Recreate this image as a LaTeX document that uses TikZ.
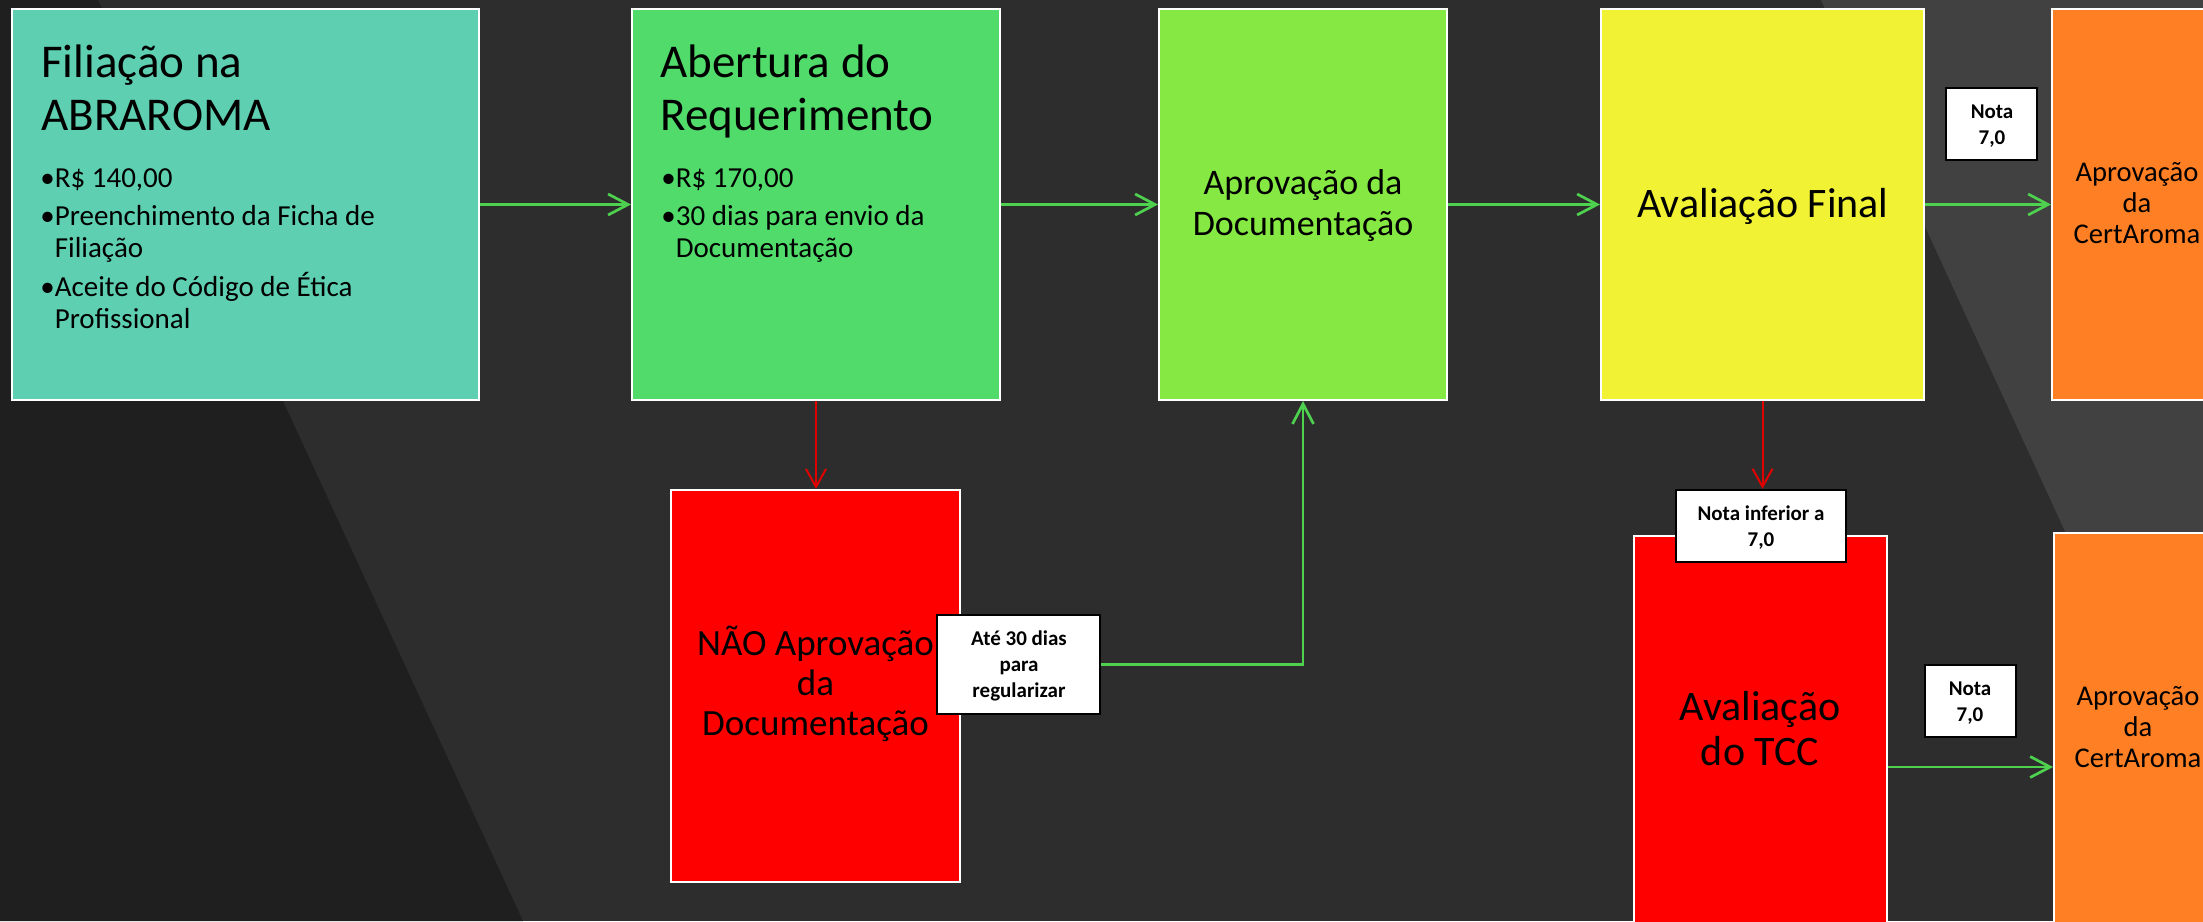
\documentclass[tikz,border=0pt]{standalone}
\usepackage{fontspec}
\setmainfont{Carlito}
\usetikzlibrary{arrows.meta,fit}
\definecolor{bgmid}{HTML}{2D2D2D}
\definecolor{bgdark}{HTML}{1F1F1F}
\definecolor{bglight}{HTML}{414141}
\definecolor{cteal}{HTML}{5ECFB1}
\definecolor{cgreen}{HTML}{50DB6A}
\definecolor{clime}{HTML}{86E842}
\definecolor{cyellow}{HTML}{F0F233}
\definecolor{corange}{HTML}{FF7F24}
\definecolor{cred}{HTML}{FF0000}
\definecolor{garrowc}{HTML}{4FD150}
\definecolor{rarrowc}{HTML}{E00000}
\tikzset{
  box/.style={draw=white, line width=1pt, inner sep=0pt},
  lbl/.style={draw=black, fill=white, line width=1.25pt, inner sep=0pt},
  gconn/.style={draw=garrowc, line width=1.35pt, -{Straight Barb[length=10pt,width=10.5pt]}},
  rconn/.style={draw=rarrowc, line width=1pt, -{Straight Barb[length=9pt,width=10pt]}},
  ttl/.style={anchor=base west, inner sep=0pt, font=\fontsize{23.5}{26.5}\selectfont},
  bul/.style={anchor=base west, inner sep=0pt, font=\fontsize{14.5}{16}\selectfont},
  ctxt/.style={anchor=base, inner sep=0pt},
  ltxt/.style={anchor=base, inner sep=0pt, font=\bfseries\fontsize{10.5}{13}\selectfont},
}
\begin{document}
\begin{tikzpicture}[x=0.5pt,y=-0.5pt]
\useasboundingbox (0,0) rectangle (2203,921);
\clip (0,0) rectangle (2203,921);
% background
\fill[bgmid] (0,0) rectangle (2203,921);
\fill[bgdark] (0,0) -- (98,0) -- (523,921) -- (0,921) -- cycle;
\fill[bglight] (1821,0) -- (2203,0) -- (2203,832) -- cycle;
% boxes
\node[box, fill=cteal, fit={(12,9)(479,400)}] (b1) {};
\node[box, fill=cgreen, fit={(632,9)(1000,400)}] (b2) {};
\node[box, fill=clime, fit={(1159,9)(1447,400)}] (b3) {};
\node[box, fill=cyellow, fit={(1601,9)(1924,400)}] (b4) {};
\node[box, fill=corange, fit={(2052,9)(2222,400)}] (b5) {};
\node[box, fill=cred, fit={(671,490)(960,882)}] (b6) {};
\node[box, fill=cred, fit={(1634,536)(1887,998)}] (b7) {};
\node[box, fill=corange, fit={(2054,533)(2222,1001)}] (b8) {};
% texts
\node[ttl] (t1) at (41,77) {\begin{tabular}[t]{@{}l@{}}Filiação na\\ABRAROMA\end{tabular}};
\node[bul] (u1) at (40,187) {\begin{tabular}[t]{@{}l@{}l@{}}•&R\$ 140,00\\[3pt]•&Preenchimento da Ficha de\\&Filiação\\[3pt]•&Aceite do Código de Ética\\&Profissional\end{tabular}};
\node[ttl] (t2) at (660,77) {\begin{tabular}[t]{@{}l@{}}Abertura do\\Requerimento\end{tabular}};
\node[bul] (u2) at (661,187) {\begin{tabular}[t]{@{}l@{}l@{}}•&R\$ 170,00\\[3pt]•&30 dias para envio da\\&Documentação\end{tabular}};
\node[ctxt, font=\fontsize{18}{20.5}\selectfont] (t3) at (1303,194) {\begin{tabular}[t]{@{}c@{}}Aprovação da\\Documentação\end{tabular}};
\node[ctxt, font=\fontsize{21}{23}\selectfont] (t4) at (1763,217) {Avaliação Final};
\node[ctxt, font=\fontsize{14.3}{15.5}\selectfont] (t5) at (2137,181) {\begin{tabular}[t]{@{}c@{}}Aprovação\\da\\CertAroma\end{tabular}};
\node[ctxt, font=\fontsize{18.5}{20}\selectfont] (t6) at (815.5,655) {\begin{tabular}[t]{@{}c@{}}NÃO Aprovação\\da\\Documentação\end{tabular}};
\node[ctxt, font=\fontsize{21}{22.5}\selectfont] (t7) at (1760,720) {\begin{tabular}[t]{@{}c@{}}Avaliação\\do TCC\end{tabular}};
\node[ctxt, font=\fontsize{14.3}{15.5}\selectfont] (t8) at (2138,705) {\begin{tabular}[t]{@{}c@{}}Aprovação\\da\\CertAroma\end{tabular}};
% connectors
\draw[gconn] (b1) -- (b2);
\draw[gconn] (b2) -- (b3);
\draw[gconn] (b3) -- (b4);
\draw[gconn] (b4) -- (b5);
\draw[rconn] (b2.south) -- (b2.south |- b6.north);
\coordinate (lrow) at (1000,664.5);
\draw[gconn] (b6.east |- lrow) -| (b3.south);
\draw[gconn] (b7) -- (b8);
% labels
\node[lbl, fit={(1946,88)(2037,160)}] (l1) {};
\node[ltxt] (l1t) at (1992,118) {\begin{tabular}[t]{@{}c@{}}Nota\\7,0\end{tabular}};
\node[lbl, fit={(937,615)(1100,714)}] (l2) {};
\node[ltxt] (l2t) at (1019,645) {\begin{tabular}[t]{@{}c@{}}Até 30 dias\\para\\regularizar\end{tabular}};
\node[lbl, fit={(1676,490)(1846,562)}] (l3) {};
\node[ltxt] (l3t) at (1761,520) {\begin{tabular}[t]{@{}c@{}}Nota inferior a\\7,0\end{tabular}};
\node[lbl, fit={(1925,665)(2016,737)}] (l4) {};
\node[ltxt] (l4t) at (1970,695) {\begin{tabular}[t]{@{}c@{}}Nota\\7,0\end{tabular}};
\draw[rconn] (b4.south) -- (b4.south |- l3.north);
\end{tikzpicture}
\end{document}
